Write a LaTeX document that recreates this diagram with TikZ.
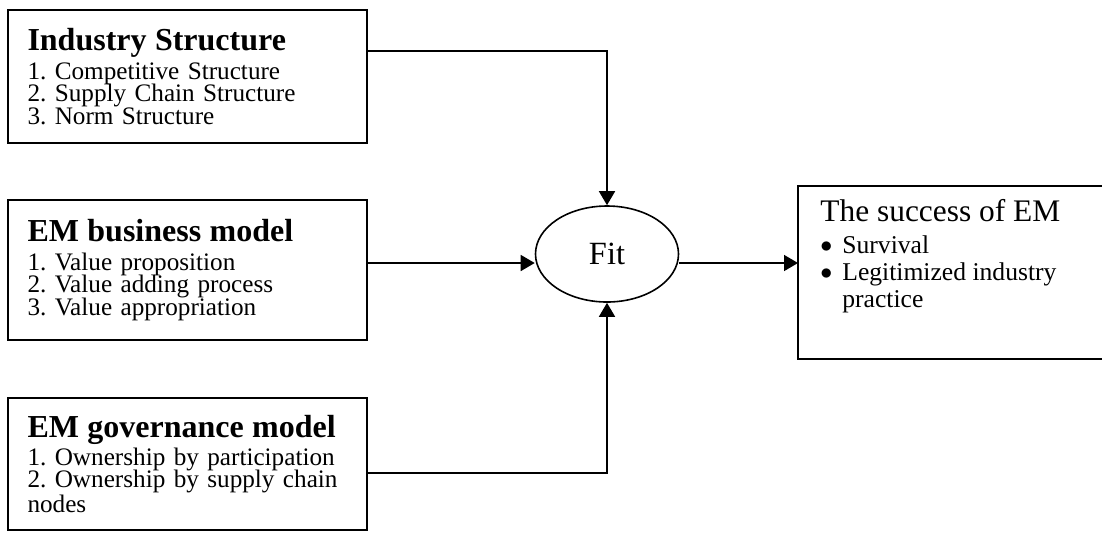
\documentclass[tikz,border=0pt]{standalone}
\usepackage{fontspec}
\setmainfont{Liberation Serif}
\usetikzlibrary{arrows.meta, shapes.geometric}

\newcommand{\headtxt}{\fontsize{16}{11.4}\selectfont\bfseries}
\newcommand{\bodytxt}{\fontsize{12.6}{11.4}\selectfont\lineskiplimit=-6pt\frenchspacing\hyphenpenalty=10000}
\newcommand{\dotmark}{\makebox[11pt][l]{\raisebox{0.3pt}{$\bullet$}}}

\begin{document}
\begin{tikzpicture}[x=0.5pt, y=-0.5pt,
    factor/.style={rectangle, draw, line width=1pt, outer sep=0pt, anchor=north west,
        minimum width=179.5pt, inner xsep=9.75pt, text width=160pt, align=left, font=\bodytxt},
    link/.style={line width=0.8pt},
    arr/.style={link, -{Triangle[length=7pt, width=8pt]}}]
            \useasboundingbox (0, 0) rectangle (1102, 532);
            \clip (0, 0) rectangle (1102, 532);

            \node[factor, minimum height=66.5pt] at (8, 10)   (ind) {{\headtxt Industry Structure}\\[3pt]
                1. Competitive Structure\\ 2. Supply Chain Structure\\ 3. Norm Structure\\[2pt]};
            \node[factor, minimum height=70pt] at (8, 200)  (bm) {{\headtxt EM business model}\\[3pt]
                1. Value proposition\\ 2. Value adding process\\ 3. Value appropriation};
            \node[factor, minimum height=66pt] at (8, 398)  (gov) {{\headtxt EM governance model}\\[2.5pt]
                1. Ownership by participation\\ 2. Ownership by supply chain\\[1pt] nodes};

            \node[ellipse, draw, line width=0.8pt, minimum width=71.5pt, minimum height=48pt, inner sep=0pt,
                font=\fontsize{16.2}{16}\selectfont] at (607, 254) (fit) {Fit};

            \node[rectangle, draw, line width=1pt, outer sep=0pt, anchor=north west,
                minimum width=160pt, minimum height=86.5pt] at (798, 186) (res) {};
            \node[anchor=north west, inner sep=0pt, align=left, font=\fontsize{12.8}{13.5}\selectfont]
                at ([xshift=11pt, yshift=-6.5pt]res.north west) (restxt)
                {{\fontsize{15.7}{13.5}\selectfont The success of EM}\\[2.5pt]
                \dotmark Survival\\
                \dotmark Legitimized industry\\
                \makebox[11pt][l]{}practice};

            \coordinate (lev1) at (0, 51);
            \coordinate (lev2) at (0, 263);
            \coordinate (lev3) at (0, 473);

            \draw [arr] (ind.east |- lev1) -| (fit.north);
            \draw [arr] (bm.east |- lev2) -- (fit.west |- lev2);
            \draw [arr] (gov.east |- lev3) -| (fit.south);
            \draw [arr] (fit.east |- lev2) -- (res.west |- lev2);
        \end{tikzpicture}
\end{document}
